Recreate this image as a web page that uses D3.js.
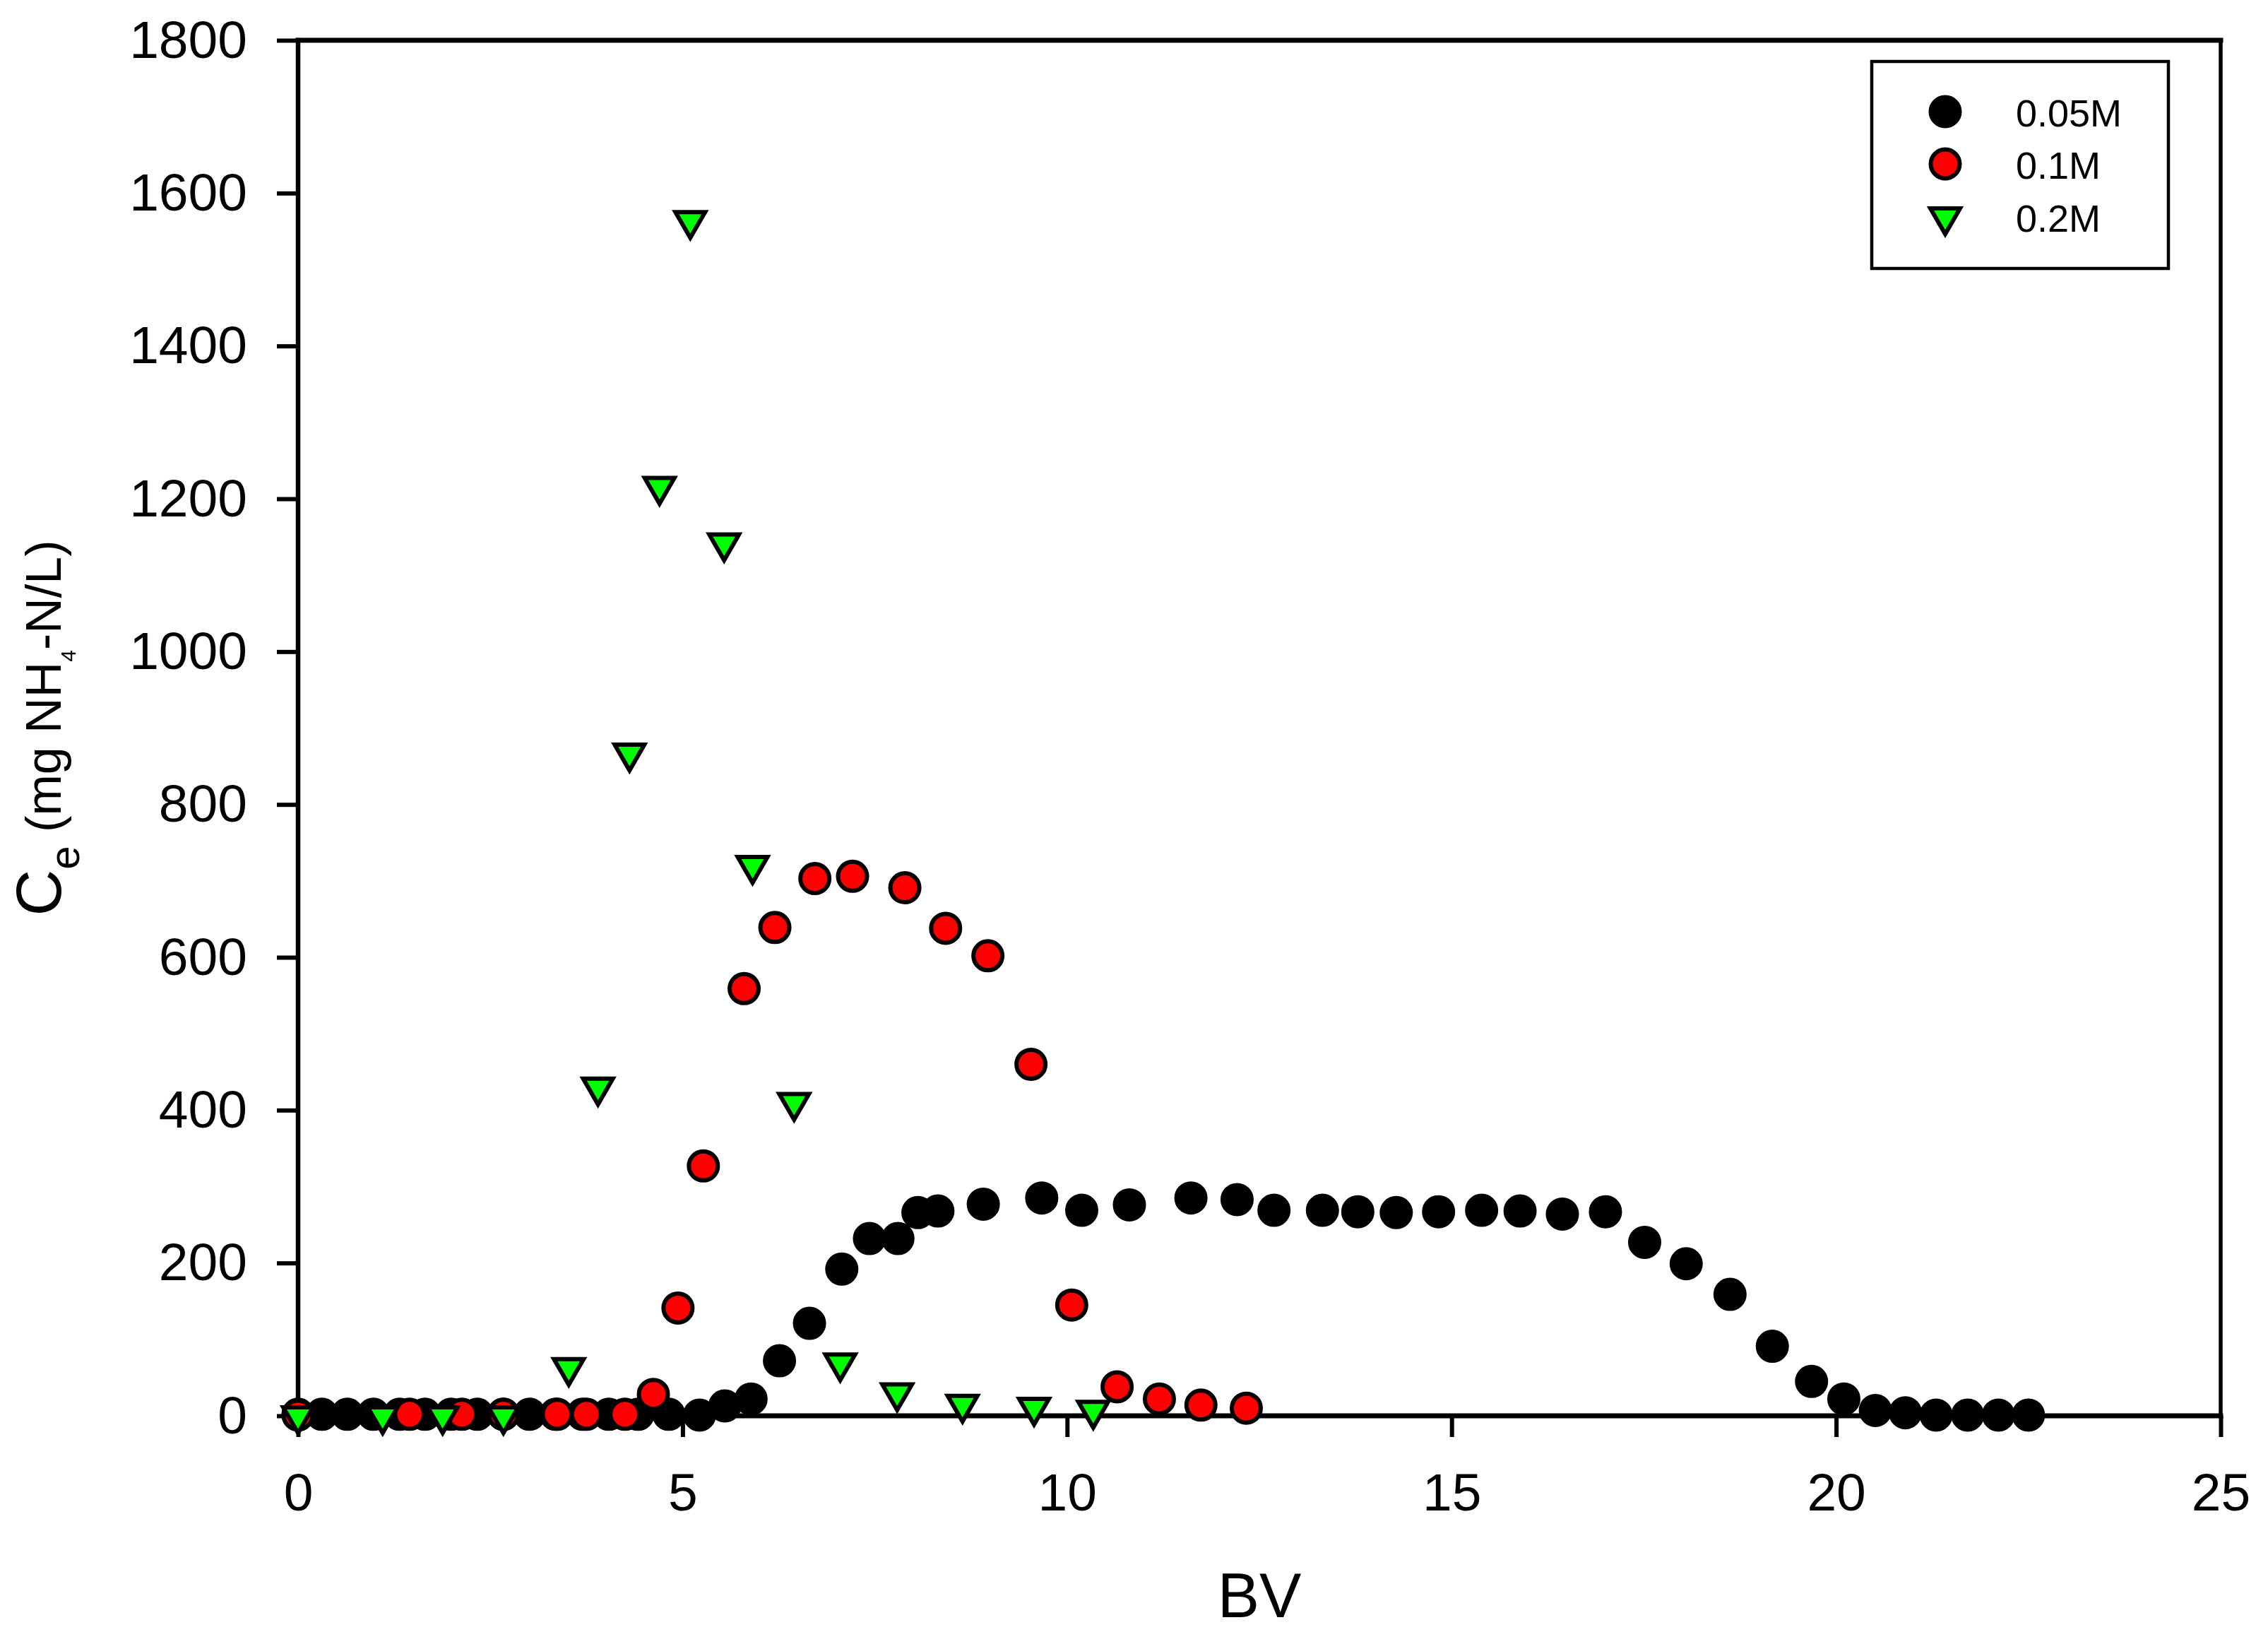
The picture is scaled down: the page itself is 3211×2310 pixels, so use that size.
<!DOCTYPE html>
<html>
<head>
<meta charset="utf-8">
<script src="https://cdn.jsdelivr.net/npm/d3@7"></script>
<style>
  body { margin: 0; background: #fff; }
  svg text { font-family: "Liberation Sans", Arial, sans-serif; fill: #000; }
</style>
</head>
<body>
<div class="chart"></div>
<script>
// 0.05M series (black)
const bv005 = [0, 0.31, 0.64, 0.98, 1.32, 1.65, 1.99, 2.33, 2.67, 3.01, 3.35, 3.70, 4.04, 4.42, 4.82,
  5.22, 5.55, 5.89, 6.26, 6.65, 7.07, 7.43, 7.80, 8.06, 8.32, 8.91, 9.67, 10.19, 10.81, 11.61,
  12.21, 12.69, 13.32, 13.78, 14.28, 14.83, 15.39, 15.89, 16.44, 17.00, 17.51, 18.05, 18.62,
  19.17, 19.68, 20.10, 20.51, 20.90, 21.30, 21.71, 22.11, 22.50];
const ce005 = [2, 2, 2, 2, 2, 2, 2, 2, 2, 2, 2, 2, 2, 2, 2,
  1, 13, 22, 72, 121, 192, 232, 232, 266, 268, 277, 285, 269, 276, 285,
  283, 269, 269, 267, 266, 267, 269, 268, 264, 267, 227, 199, 159,
  91, 45, 22, 7, 4, 1, 1, 1, 1];

// 0.1M series (red)
const bv01 = [0, 1.45, 2.13, 2.67, 3.37, 3.75, 4.25, 4.62, 4.94, 5.27, 5.80, 6.20, 6.72, 7.21,
  7.89, 8.42, 8.97, 9.53, 10.06, 10.65, 11.20, 11.74, 12.33];
const ce01 = [1, 2, 2, 2, 2, 2, 2, 28, 141, 327, 559, 639, 703, 706,
  691, 638, 602, 460, 145, 38, 22, 14, 10];

// 0.2M series (green triangles)
const bv02 = [0, 1.10, 1.88, 2.67, 3.52, 3.90, 4.31, 4.70, 5.10, 5.54, 5.91, 6.45, 7.05, 7.79,
  8.64, 9.57, 10.34];
const ce02 = [0, 0, 0, 0, 63, 430, 867, 1216, 1564, 1142, 720, 410, 69, 30,
  15, 11, 7];

const seriesNames = ["0.05M", "0.1M", "0.2M"];
const xTicks = [0, 5, 10, 15, 20, 25];
const yTicks = [0, 200, 400, 600, 800, 1000, 1200, 1400, 1600, 1800];

const width = 3211;
const height = 2310;
const margin = { top: 57, right: 67, bottom: 306, left: 422 };

const x = d3.scaleLinear().domain([0, 25]).range([margin.left, width - margin.right]);
const y = d3.scaleLinear().domain([0, 1800]).range([height - margin.bottom, margin.top]);

const svg = d3
  .select(".chart")
  .append("svg")
  .attr("width", width)
  .attr("height", height)
  .attr("viewBox", [0, 0, width, height]);

svg.append("rect").attr("width", width).attr("height", height).attr("fill", "#fff");

// axes
const xAxis = svg
  .append("g")
  .attr("transform", `translate(0,${y(0)})`)
  .call(d3.axisBottom(x).tickValues(xTicks).tickSize(30).tickPadding(51).tickFormat(d3.format("d")));

const yAxis = svg
  .append("g")
  .attr("transform", `translate(${x(0)},0)`)
  .call(d3.axisLeft(y).tickValues(yTicks).tickSize(30).tickPadding(42).tickFormat(d3.format("d")));

[xAxis, yAxis].forEach((g) => {
  g.select(".domain").remove();
  g.selectAll(".tick line").attr("stroke", "#000").attr("stroke-width", 6);
  g.selectAll(".tick text").style("font-size", "75px");
});

// frame
const frame = [
  [x(0), y(0), x(25), y(0), 7],
  [x(0), y(0), x(0), y(1800), 6.5],
  [x(0), y(1800), x(25), y(1800), 7],
  [x(25), y(0), x(25), y(1800), 5.5],
];
svg
  .append("g")
  .selectAll("line")
  .data(frame)
  .join("line")
  .attr("x1", (d) => d[0])
  .attr("y1", (d) => d[1])
  .attr("x2", (d) => d[2])
  .attr("y2", (d) => d[3])
  .attr("stroke", "#000")
  .attr("stroke-width", (d) => d[4])
  .attr("stroke-linecap", "square");

// axis titles
svg
  .append("text")
  .attr("x", (x(0) + x(25)) / 2)
  .attr("y", 2289)
  .attr("text-anchor", "middle")
  .style("font-size", "89px")
  .text("BV");

const yTitle = svg
  .append("text")
  .attr("transform", `translate(86,${(y(0) + y(1800)) / 2}) rotate(-90)`)
  .attr("text-anchor", "middle");
yTitle.append("tspan").style("font-size", "91px").text("C");
yTitle.append("tspan").style("font-size", "60px").attr("dy", 26).text("e");
yTitle.append("tspan").style("font-size", "70px").attr("dy", -26).text(" (mg NH");
yTitle.append("tspan").style("font-size", "30px").attr("dy", 21).text("4");
yTitle.append("tspan").style("font-size", "70px").attr("dy", -21).text("-N/L)");

// markers
const r = 20.5;
const sw = 6;
const tri = (a) => {
  const h = a * Math.sqrt(3);
  return `M${-a},${-h / 3}L${a},${-h / 3}L0,${(2 * h) / 3}Z`;
};

function circles(xs, ys, fill) {
  svg
    .append("g")
    .selectAll("circle")
    .data(xs.map((d, i) => [d, ys[i]]))
    .join("circle")
    .attr("cx", (d) => x(d[0]))
    .attr("cy", (d) => y(d[1]))
    .attr("r", r)
    .attr("fill", fill)
    .attr("stroke", "#000")
    .attr("stroke-width", sw);
}

circles(bv005, ce005, "#000");
circles(bv01, ce01, "#ff0000");

svg
  .append("g")
  .selectAll("path")
  .data(bv02.map((d, i) => [d, ce02[i]]))
  .join("path")
  .attr("transform", (d) => `translate(${x(d[0])},${y(d[1])})`)
  .attr("d", tri(21))
  .attr("fill", "#00ff00")
  .attr("stroke", "#000")
  .attr("stroke-width", sw)
  .attr("stroke-linejoin", "miter");

// legend
const legend = svg.append("g");
legend
  .append("rect")
  .attr("x", 2650)
  .attr("y", 87)
  .attr("width", 420)
  .attr("height", 293)
  .attr("fill", "#fff")
  .attr("stroke", "#000")
  .attr("stroke-width", 4.5);

const legendY = [158, 232, 307];
const legendFill = ["#000", "#ff0000", "#00ff00"];
seriesNames.forEach((name, i) => {
  if (i < 2) {
    legend
      .append("circle")
      .attr("cx", 2754)
      .attr("cy", legendY[i])
      .attr("r", r)
      .attr("fill", legendFill[i])
      .attr("stroke", "#000")
      .attr("stroke-width", sw);
  } else {
    legend
      .append("path")
      .attr("transform", `translate(2754,${legendY[i]})`)
      .attr("d", tri(21))
      .attr("fill", legendFill[i])
      .attr("stroke", "#000")
      .attr("stroke-width", sw);
  }
  legend
    .append("text")
    .attr("x", 2854)
    .attr("y", legendY[i] + 21)
    .style("font-size", "54px")
    .text(name);
});
</script>
</body>
</html>
